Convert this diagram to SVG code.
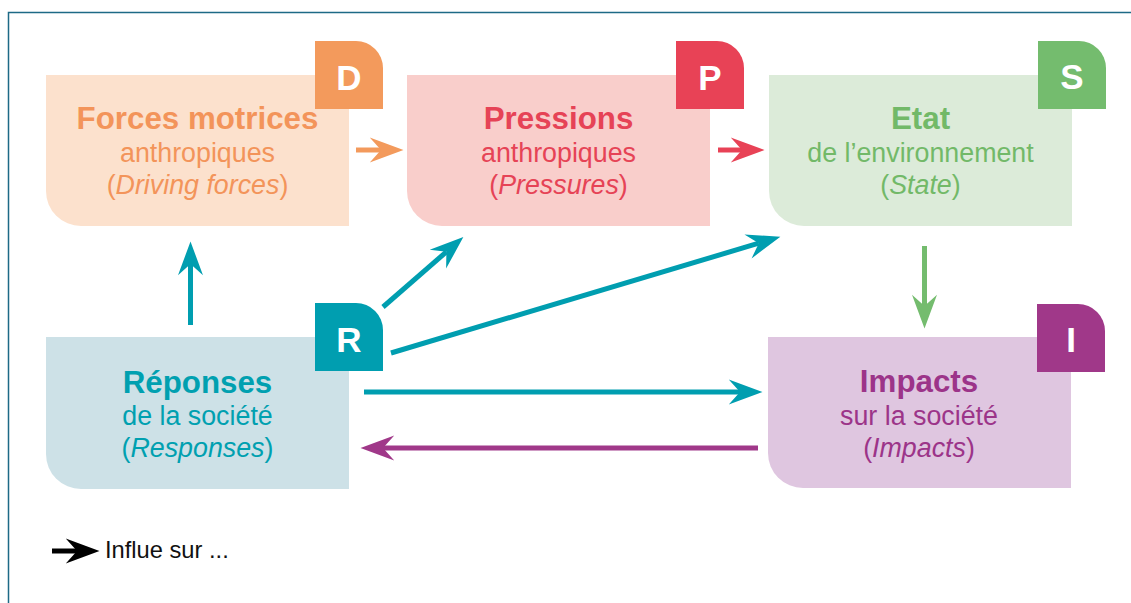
<svg xmlns="http://www.w3.org/2000/svg" width="1131" height="603" viewBox="0 0 1131 603">
<style>
text{font-family:"Liberation Sans",Arial,sans-serif;text-anchor:middle}
.t{font-size:31.3px;font-weight:bold}
.s{font-size:26.8px}
.it{font-style:italic}
.b{font-size:35px;font-weight:bold;fill:#fff}
.ln{fill:none;stroke-width:5}
</style>
<defs>
<marker id="mo" markerUnits="userSpaceOnUse" markerWidth="40" markerHeight="30" viewBox="-12 -12 32 24" refX="0" refY="0" orient="auto"><path d="M18,0 L-9,-10 L0,0 L-9,10 Z" fill="#f39a5c"/></marker>
<marker id="mr" markerUnits="userSpaceOnUse" markerWidth="40" markerHeight="30" viewBox="-12 -12 32 24" refX="0" refY="0" orient="auto"><path d="M18,0 L-9,-10 L0,0 L-9,10 Z" fill="#e84256"/></marker>
<marker id="mg" markerUnits="userSpaceOnUse" markerWidth="40" markerHeight="30" viewBox="-12 -12 32 24" refX="0" refY="0" orient="auto"><path d="M18,0 L-9,-10 L0,0 L-9,10 Z" fill="#74bc6e"/></marker>
<marker id="mt" markerUnits="userSpaceOnUse" markerWidth="40" markerHeight="30" viewBox="-12 -12 32 24" refX="0" refY="0" orient="auto"><path d="M18,0 L-9,-10 L0,0 L-9,10 Z" fill="#009eb0"/></marker>
<marker id="mp" markerUnits="userSpaceOnUse" markerWidth="40" markerHeight="30" viewBox="-12 -12 32 24" refX="0" refY="0" orient="auto"><path d="M18,0 L-9,-10 L0,0 L-9,10 Z" fill="#a03889"/></marker>
<marker id="mk" markerUnits="userSpaceOnUse" markerWidth="40" markerHeight="30" viewBox="-12 -12 32 24" refX="0" refY="0" orient="auto"><path d="M18,0 L-9,-10 L0,0 L-9,10 Z" fill="#000"/></marker>
</defs>
<rect width="1131" height="603" fill="#fff"/>
<rect x="8.5" y="12.5" width="1200" height="700" fill="none" stroke="#1d6a86" stroke-width="1.5"/>

<g id="node-D">
<path d="M46,75 H349 V226 H81 A35,35 0 0 1 46,191 Z" fill="#fce1cd"/>
<path d="M315,41 H356 A27,27 0 0 1 383,68 V109 H315 Z" fill="#f39a5c"/>
<text class="b" x="349" y="90">D</text>
<g fill="#f3945a">
<text class="t" x="197.5" y="129">Forces motrices</text>
<text class="s" x="197.5" y="162">anthropiques</text>
<text class="s" x="197.5" y="194">(<tspan class="it">Driving forces</tspan>)</text>
</g>
</g>

<g id="node-P">
<path d="M407,75 H710 V226 H442 A35,35 0 0 1 407,191 Z" fill="#f9cecb"/>
<path d="M676,41 H717 A27,27 0 0 1 744,68 V109 H676 Z" fill="#e84256"/>
<text class="b" x="710" y="90">P</text>
<g fill="#e64356">
<text class="t" x="558.5" y="129">Pressions</text>
<text class="s" x="558.5" y="162">anthropiques</text>
<text class="s" x="558.5" y="194">(<tspan class="it">Pressures</tspan>)</text>
</g>
</g>

<g id="node-S">
<path d="M769,75 H1072 V226 H804 A35,35 0 0 1 769,191 Z" fill="#dcebd9"/>
<path d="M1038,41 H1079 A27,27 0 0 1 1106,68 V109 H1038 Z" fill="#74bc6e"/>
<text class="b" x="1072" y="89">S</text>
<g fill="#72b968">
<text class="t" x="920.5" y="129">Etat</text>
<text class="s" x="920.5" y="162">de l’environnement</text>
<text class="s" x="920.5" y="194">(<tspan class="it">State</tspan>)</text>
</g>
</g>

<g id="node-R">
<path d="M46,337 H349 V489 H81 A35,35 0 0 1 46,454 Z" fill="#cde1e7"/>
<path d="M315,303 H356 A27,27 0 0 1 383,330 V371 H315 Z" fill="#009eb0"/>
<text class="b" x="349" y="352">R</text>
<g fill="#00a0b0">
<text class="t" x="197.5" y="393">Réponses</text>
<text class="s" x="197.5" y="425">de la société</text>
<text class="s" x="197.5" y="457">(<tspan class="it">Responses</tspan>)</text>
</g>
</g>

<g id="node-I">
<path d="M768,337 H1071 V488 H803 A35,35 0 0 1 768,453 Z" fill="#dfc6e0"/>
<path d="M1037,304 H1078 A27,27 0 0 1 1105,331 V372 H1037 Z" fill="#a03889"/>
<text class="b" x="1071" y="352">I</text>
<g fill="#9c3489">
<text class="t" x="919" y="392">Impacts</text>
<text class="s" x="919" y="425">sur la société</text>
<text class="s" x="919" y="457">(<tspan class="it">Impacts</tspan>)</text>
</g>
</g>

<g id="connectors">
<line class="ln" x1="356" y1="150" x2="381" y2="150" stroke="#f39a5c" marker-end="url(#mo)"/>
<line class="ln" x1="718" y1="150" x2="742" y2="150" stroke="#e84256" marker-end="url(#mr)"/>
<line class="ln" x1="924.5" y1="246" x2="924.5" y2="306" stroke="#74bc6e" marker-end="url(#mg)"/>
<line class="ln" x1="190.5" y1="325" x2="190.5" y2="264" stroke="#009eb0" marker-end="url(#mt)"/>
<line class="ln" x1="383" y1="307" x2="446.4" y2="251.8" stroke="#009eb0" marker-end="url(#mt)"/>
<line class="ln" x1="391" y1="353" x2="758.8" y2="243.2" stroke="#009eb0" marker-end="url(#mt)"/>
<line class="ln" x1="364" y1="392" x2="740" y2="392" stroke="#009eb0" marker-end="url(#mt)"/>
<line class="ln" x1="758" y1="448" x2="383" y2="448" stroke="#a03889" marker-end="url(#mp)"/>
</g>

<g id="legend">
<line class="ln" x1="52" y1="551" x2="77" y2="551" stroke="#000" marker-end="url(#mk)"/>
<text x="105" y="558" style="font-size:23.7px;text-anchor:start" fill="#111">Influe sur ...</text>
</g>
</svg>
